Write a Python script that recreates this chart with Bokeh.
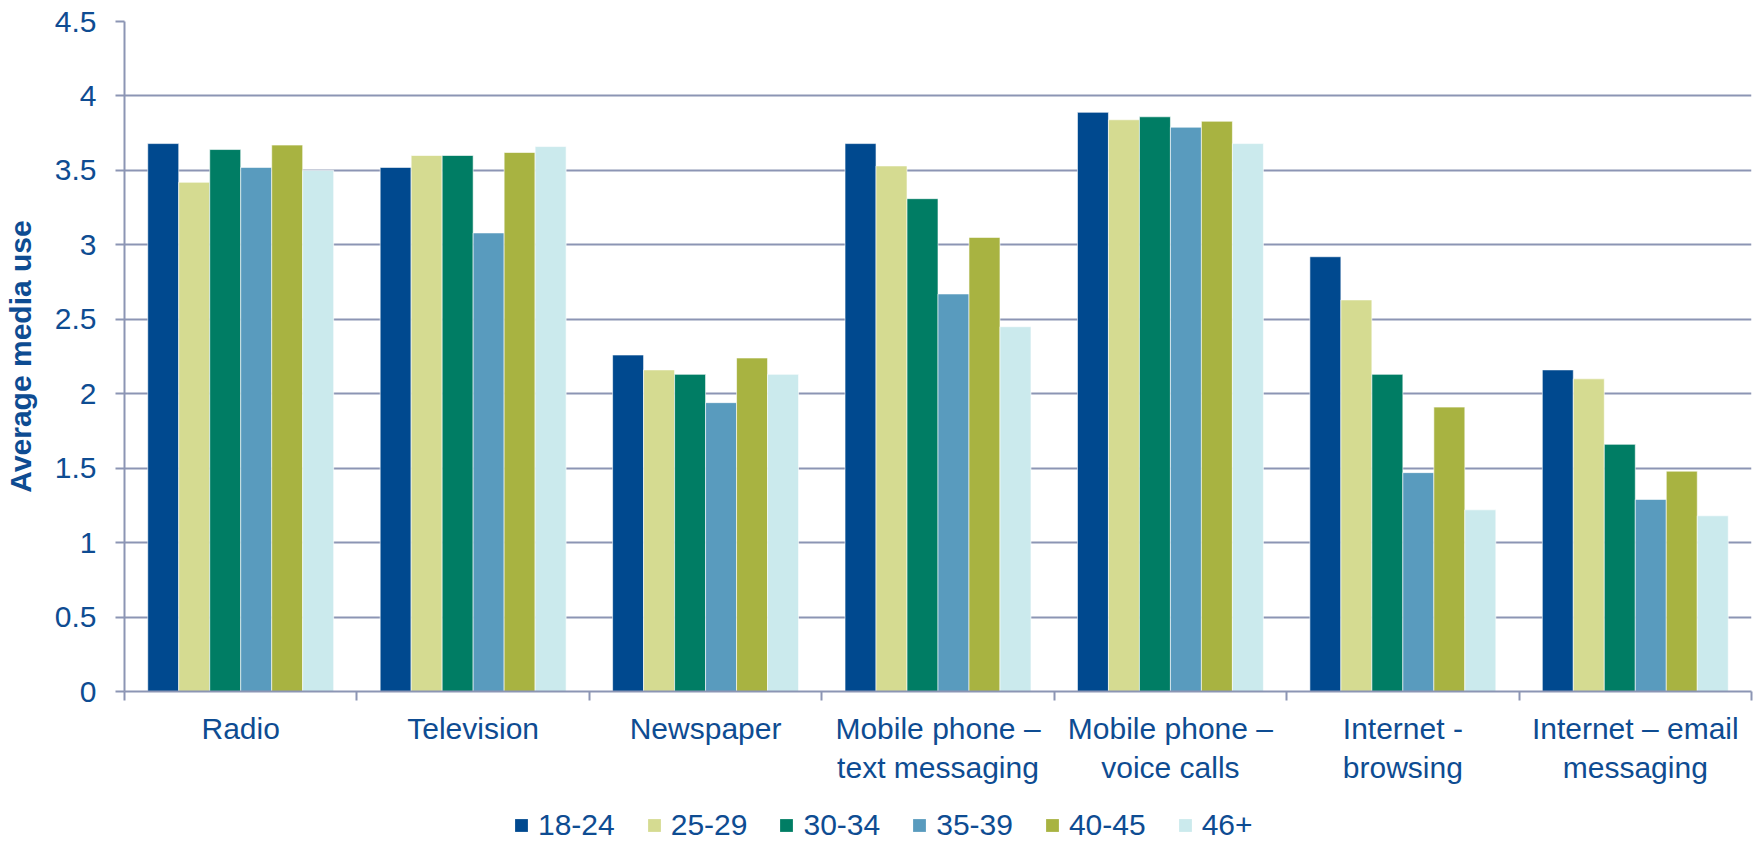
import numpy as np
from bokeh.plotting import figure
from bokeh.layouts import column
from bokeh.models import (ColumnDataSource, Range1d, LinearAxis, FixedTicker,
                          NumeralTickFormatter, Legend, LegendItem)
from bokeh.transform import dodge
from bokeh.embed import file_html
from bokeh.resources import INLINE

# Media types (x categories)
categories = [
    "Radio",
    "Television",
    "Newspaper",
    "Mobile phone \u2013\ntext messaging",
    "Mobile phone \u2013\nvoice calls",
    "Internet -\nbrowsing",
    "Internet \u2013 email\nmessaging",
]

# Age groups (series)
age_groups = ["18-24", "25-29", "30-34", "35-39", "40-45", "46+"]

# Average media use per age group, one value per media type
use_18_24 = [3.68, 3.52, 2.26, 3.68, 3.89, 2.92, 2.16]
use_25_29 = [3.42, 3.60, 2.16, 3.53, 3.84, 2.63, 2.10]
use_30_34 = [3.64, 3.60, 2.13, 3.31, 3.86, 2.13, 1.66]
use_35_39 = [3.52, 3.08, 1.94, 2.67, 3.79, 1.47, 1.29]
use_40_45 = [3.67, 3.62, 2.24, 3.05, 3.83, 1.91, 1.48]
use_46_plus = [3.50, 3.66, 2.13, 2.45, 3.68, 1.22, 1.18]

y_ticks = [0, 0.5, 1, 1.5, 2, 2.5, 3, 3.5, 4, 4.5]

series = [use_18_24, use_25_29, use_30_34, use_35_39, use_40_45, use_46_plus]
colors = ["#00498F", "#D5DB91", "#007D64", "#599BBE", "#A8B341", "#CBEAED"]

TEXT = "#0E4C92"
GRID = "#8C95B4"
FONT = "Liberation Sans"

n_cat = len(categories)
centers = [i + 0.5 for i in range(n_cat)]
boundaries = [float(i) for i in range(n_cat + 1)]

data = {"x": centers}
for g, vals in zip(age_groups, series):
    data[g] = vals
source = ColumnDataSource(data)

p = figure(
    width=1759, height=787,
    x_range=Range1d(0, n_cat), y_range=Range1d(0, 4.5),
    x_axis_type=None,
    output_backend="svg", toolbar_location=None,
    min_border_left=122, min_border_right=8,
    min_border_top=21, min_border_bottom=95,
)
p.outline_line_color = None
p.background_fill_color = "white"
p.border_fill_color = "white"

# Grouped bars
group_width = 0.8
bar_w = group_width / len(age_groups)
for k, (g, c) in enumerate(zip(age_groups, colors)):
    offset = (k - (len(age_groups) - 1) / 2) * bar_w
    p.vbar(x=dodge("x", offset, range=p.x_range), top=g, width=bar_w,
           source=source, fill_color=c, line_color="white",
           line_alpha=0.6, line_width=1)

# Y axis
yax = p.yaxis[0]
yax.ticker = FixedTicker(ticks=y_ticks)
yax.formatter = NumeralTickFormatter(format="0.[0]")
yax.axis_label = "Average media use"
yax.axis_label_text_font = FONT
yax.axis_label_text_font_style = "bold"
yax.axis_label_text_font_size = "30px"
yax.axis_label_text_color = TEXT
yax.axis_label_standoff = 15
yax.major_label_text_font = FONT
yax.major_label_text_font_size = "30px"
yax.major_label_text_color = TEXT
yax.major_label_standoff = 19
yax.axis_line_color = GRID
yax.axis_line_width = 2
yax.major_tick_line_color = GRID
yax.major_tick_line_width = 2
yax.major_tick_in = 0
yax.major_tick_out = 9
yax.minor_tick_line_color = None

p.ygrid.ticker = FixedTicker(ticks=y_ticks)
p.ygrid.grid_line_color = GRID
p.ygrid.grid_line_width = 2
p.xgrid.grid_line_color = None

# Category names centred under each group, with ticks at group boundaries
xax = LinearAxis(
    ticker=FixedTicker(ticks=centers, minor_ticks=boundaries),
    major_label_overrides={c: name for c, name in zip(centers, categories)},
    major_label_text_font=FONT,
    major_label_text_font_size="30px",
    major_label_text_color=TEXT,
    major_label_standoff=11,
    axis_line_color=GRID, axis_line_width=2,
    major_tick_line_color=None,
    minor_tick_line_color=GRID, minor_tick_line_width=2,
    minor_tick_in=0, minor_tick_out=9,
)
p.add_layout(xax, "below")

# Legend strip under the chart
leg_fig = figure(
    width=1759, height=55,
    x_range=Range1d(0, 1), y_range=Range1d(0, 1),
    x_axis_type=None, y_axis_type=None,
    output_backend="svg", toolbar_location=None,
    min_border=0,
)
leg_fig.outline_line_color = None
leg_fig.xgrid.grid_line_color = None
leg_fig.ygrid.grid_line_color = None

# Zero-height swatch renderers: only their legend glyphs are visible
swatches = []
for g, c in zip(age_groups, colors):
    r = leg_fig.vbar(x=[0.5], bottom=[0], top=[0], width=0.1,
                     fill_color=c, line_color=None)
    swatches.append(r)

legend = Legend(
    items=[LegendItem(label=g, renderers=[r]) for g, r in zip(age_groups, swatches)],
    orientation="horizontal",
    location=(389, 0),
    glyph_width=16, glyph_height=16,
    label_standoff=9, spacing=31,
    label_text_font=FONT, label_text_font_size="30px",
    label_text_color=TEXT,
    border_line_color=None, background_fill_alpha=0,
    padding=0, margin=0,
)
leg_fig.add_layout(legend, "center")

layout = column(p, leg_fig, spacing=0)
open("out.html", "w").write(file_html(layout, INLINE))
